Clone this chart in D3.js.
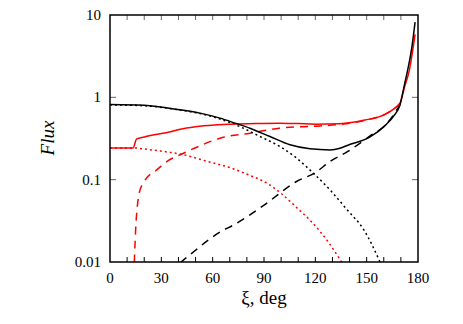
<!DOCTYPE html>
<html lang="en">
  <head>
    <meta charset="UTF-8" />
    <title>Flux</title>
    <style>
      body { margin: 0; background: #fff; }
    </style>
  </head>
  <body>
    <svg id="svg" width="463" height="324"></svg>

    <script src="https://d3js.org/d3.v7.min.js"></script>
    <script>
      // values (angle in deg, flux)
      const blackSolidX = [0, 20, 40.9, 52.6, 64.3, 73.1, 81.8, 93.5, 105.2, 116.9, 128.6, 134.4, 139, 152, 161, 166, 169.5, 172, 174.4, 176.5, 178.3];
      const blackSolidY = [0.82, 0.8, 0.705, 0.643, 0.559, 0.486, 0.422, 0.334, 0.265, 0.237, 0.23, 0.241, 0.262, 0.33, 0.46, 0.6, 0.81, 1.4, 2.37, 4.2, 8.2];

      const blackDotX = [0, 20, 40.9, 52.6, 64.3, 76, 87.7, 99.4, 108, 118.8, 128.6, 138.6, 148.4, 158];
      const blackDotY = [0.81, 0.79, 0.7, 0.635, 0.545, 0.44, 0.334, 0.252, 0.19, 0.12, 0.075, 0.043, 0.0245, 0.0098];

      const blackDashX = [41, 50, 57.5, 65, 72, 90, 109, 120, 128.6, 139, 152, 161, 169.5];
      const blackDashY = [0.0098, 0.0139, 0.0185, 0.0236, 0.028, 0.049, 0.095, 0.122, 0.166, 0.22, 0.34, 0.46, 0.81];

      const redSolidX = [0, 13.5, 15.5, 20, 36, 41, 50, 61, 70, 85, 99, 110, 120, 134, 149, 161, 166.5, 169.5, 172, 175, 178.3];
      const redSolidY = [0.243, 0.243, 0.31, 0.33, 0.385, 0.41, 0.44, 0.462, 0.472, 0.482, 0.486, 0.48, 0.472, 0.478, 0.53, 0.625, 0.74, 0.85, 1.3, 2.16, 5.8];

      const redDashX = [14.2, 15.2, 16, 17, 20, 27, 34, 42, 52, 64.3, 81.8, 99, 122.7, 135, 150, 161, 166.5, 169.5];
      const redDashY = [0.0098, 0.03, 0.048, 0.068, 0.095, 0.13, 0.17, 0.205, 0.255, 0.319, 0.367, 0.422, 0.45, 0.47, 0.53, 0.625, 0.74, 0.85];

      const redDotX = [0, 13.5, 20.5, 36, 41, 55.5, 71, 82, 90, 100, 110, 117, 128, 135.6];
      const redDotY = [0.243, 0.243, 0.235, 0.213, 0.205, 0.17, 0.138, 0.112, 0.095, 0.068, 0.044, 0.032, 0.017, 0.0098];

      const xTicks = [0, 30, 60, 90, 120, 150, 180];
      const yTicks = [10, 1, 0.1, 0.01];
      const yTickLabels = ["10", "1", "0.1", "0.01"];

      const serif = "'Liberation Serif', 'Times New Roman', Times, 'Nimbus Roman', 'FreeSerif', 'Noto Serif', 'DejaVu Serif', serif";
      const mLeft = 110, mRight = 418, mTop = 15, mBottom = 262;
      const svg = d3.select("#svg").attr("font-family", serif);

      const xScale = d3.scaleLinear().domain([0, 180]).range([mLeft, mRight]);
      const yScale = d3.scaleLog().domain([0.01, 10]).range([mBottom, mTop]);

      svg.append("clipPath").attr("id", "plot")
        .append("rect")
        .attr("x", mLeft).attr("y", mTop)
        .attr("width", mRight - mLeft).attr("height", mBottom - mTop);

      const line = d3.line()
        .x((d) => xScale(d[0]))
        .y((d) => yScale(d[1]))
        .curve(d3.curveMonotoneX);

      const series = [
        { xs: redDotX, ys: redDotY, color: "#ff0000", dash: "2,3" },
        { xs: redDashX, ys: redDashY, color: "#ff0000", dash: "8,6" },
        { xs: blackDashX, ys: blackDashY, color: "#000", dash: "8,6" },
        { xs: blackDotX, ys: blackDotY, color: "#000", dash: "2,3" },
        { xs: redSolidX, ys: redSolidY, color: "#ff0000", dash: null },
        { xs: blackSolidX, ys: blackSolidY, color: "#000", dash: null },
      ];

      const g = svg.append("g").attr("clip-path", "url(#plot)");
      series.forEach((s) => {
        g.append("path")
          .datum(s.xs.map((x, i) => [x, s.ys[i]]))
          .attr("d", line)
          .attr("fill", "none")
          .attr("stroke", s.color)
          .attr("stroke-width", 1.5)
          .attr("stroke-dasharray", s.dash);
      });

      // ticks (inward) every 10 deg
      const minor = d3.range(10, 180, 10);
      const tg = svg.append("g").attr("stroke-width", 1);
      minor.forEach((t) => {
        tg.append("line")
          .attr("x1", xScale(t)).attr("x2", xScale(t))
          .attr("y1", mBottom).attr("y2", mBottom - 5)
          .attr("stroke", "#000");
        tg.append("line")
          .attr("x1", xScale(t)).attr("x2", xScale(t))
          .attr("y1", mTop).attr("y2", mTop + 5)
          .attr("stroke", "#666");
      });
      [1, 0.1].forEach((t) => {
        tg.append("line")
          .attr("x1", mLeft).attr("x2", mLeft + 6)
          .attr("y1", yScale(t)).attr("y2", yScale(t))
          .attr("stroke", "#666");
        tg.append("line")
          .attr("x1", mRight).attr("x2", mRight - 6)
          .attr("y1", yScale(t)).attr("y2", yScale(t))
          .attr("stroke", "#666");
      });

      // frame
      svg.append("rect")
        .attr("x", mLeft).attr("y", mTop)
        .attr("width", mRight - mLeft).attr("height", mBottom - mTop)
        .attr("fill", "none")
        .attr("stroke", "#000")
        .attr("stroke-width", 1.5);

      svg.selectAll(".xl")
        .data(xTicks)
        .enter()
        .append("text")
        .attr("x", (d) => xScale(d))
        .attr("y", mBottom + 21)
        .attr("text-anchor", "middle")
        .attr("font-size", 15)
        .text((d) => d);

      svg.selectAll(".yl")
        .data(yTicks)
        .enter()
        .append("text")
        .attr("x", mLeft - 9)
        .attr("y", (d) => yScale(d) + 5)
        .attr("text-anchor", "end")
        .attr("font-size", 15)
        .text((d, i) => yTickLabels[i]);

      svg.append("text")
        .attr("x", (mLeft + mRight) / 2)
        .attr("y", 304)
        .attr("text-anchor", "middle")
        .attr("font-size", 19)
        .text("ξ, deg");

      svg.append("text")
        .attr("transform", "translate(54,138) rotate(-90)")
        .attr("text-anchor", "middle")
        .attr("font-size", 19)
        .attr("font-style", "italic")
        .text("Flux");
    </script>
  </body>
</html>
